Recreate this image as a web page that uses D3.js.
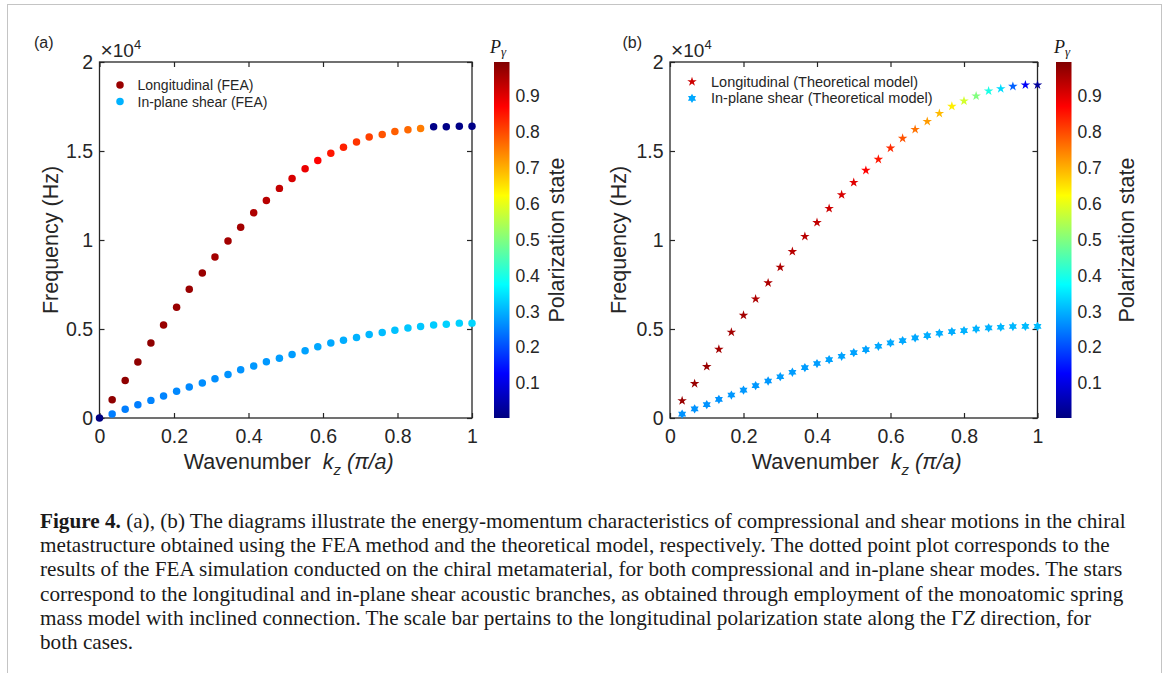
<!DOCTYPE html>
<html>
<head>
<meta charset="utf-8">
<title>Figure 4 - dispersion with polarization state</title>
<script src="https://cdn.jsdelivr.net/npm/d3@7"></script>
<style>
body { margin:0; background:#fff; }
svg { display:block; }
.sans { font-family: "Liberation Sans", Arial, sans-serif; fill:#262626; }
.serif { font-family: "Liberation Serif", "Times New Roman", serif; fill:#1a1a1a; }
.axis text { font-family: "Liberation Sans", Arial, sans-serif; fill:#262626; }
.axis line { stroke:#262626; stroke-width:1.2; }
</style>
</head>
<body>
<svg id="fig" width="1167" height="673"></svg>
<script>
// ---- data (frequency in units of 10^4 Hz, k in pi/a) ----
var kFEA = [0,0.034,0.069,0.103,0.138,0.172,0.207,0.241,0.276,0.310,0.345,0.379,0.414,0.448,0.483,
            0.517,0.552,0.586,0.621,0.655,0.690,0.724,0.759,0.793,0.828,0.862,0.897,0.931,0.966,1];
var longFEA = [0,0.103,0.211,0.314,0.421,0.523,0.622,0.723,0.815,0.905,0.994,1.071,1.153,1.222,1.290,
               1.346,1.400,1.447,1.488,1.521,1.551,1.578,1.593,1.609,1.619,1.626,1.636,1.636,1.639,1.639];
var longFEA_P = [0.0,0.98,0.98,0.98,0.98,0.97,0.97,0.97,0.97,0.96,0.96,0.96,0.95,0.94,0.93,
                 0.91,0.89,0.87,0.85,0.84,0.82,0.81,0.79,0.78,0.77,0.75,0.01,0.01,0.01,0.01];
var shearFEA = [0,0.022,0.049,0.075,0.099,0.123,0.150,0.174,0.196,0.221,0.245,0.271,0.292,0.316,0.336,
                0.357,0.378,0.400,0.421,0.437,0.452,0.469,0.480,0.493,0.506,0.514,0.523,0.527,0.533,0.533];
var shearFEA_P = [0.25,0.25,0.25,0.25,0.255,0.255,0.26,0.26,0.265,0.265,0.27,0.27,0.275,0.275,0.28,
                  0.28,0.285,0.29,0.29,0.295,0.30,0.305,0.31,0.315,0.32,0.32,0.325,0.33,0.33,0.335];

var kTheory = [0.033,0.067,0.100,0.133,0.167,0.200,0.233,0.267,0.300,0.333,0.367,0.400,0.433,0.467,0.500,
               0.533,0.567,0.600,0.633,0.667,0.700,0.733,0.767,0.800,0.833,0.867,0.900,0.933,0.967,1];
var longTheory = [0.097,0.193,0.289,0.386,0.482,0.577,0.669,0.759,0.847,0.935,1.020,1.098,1.177,1.254,1.323,
                  1.391,1.453,1.516,1.571,1.621,1.666,1.711,1.751,1.781,1.809,1.837,1.850,1.863,1.871,1.871];
var longTheory_P = [0.97,0.97,0.97,0.96,0.96,0.96,0.95,0.95,0.95,0.94,0.94,0.93,0.92,0.91,0.90,
                    0.87,0.85,0.83,0.79,0.76,0.72,0.69,0.64,0.58,0.50,0.40,0.34,0.22,0.12,0.03];
var shearTheory = [0.022,0.051,0.075,0.105,0.129,0.157,0.182,0.208,0.232,0.257,0.283,0.306,0.328,0.347,0.367,
                   0.384,0.403,0.422,0.435,0.450,0.463,0.476,0.485,0.491,0.500,0.506,0.510,0.514,0.515,0.515];
var shearTheory_P = [0.27,0.27,0.27,0.27,0.275,0.275,0.275,0.275,0.28,0.28,0.28,0.28,0.285,0.285,0.285,
                     0.285,0.29,0.29,0.29,0.29,0.295,0.295,0.295,0.30,0.30,0.30,0.305,0.305,0.31,0.31];

var xTicks = [0, 0.2, 0.4, 0.6, 0.8, 1];
var yTicks = [0, 0.5, 1, 1.5, 2];
var cbTicks = [0.1, 0.2, 0.3, 0.4, 0.5, 0.6, 0.7, 0.8, 0.9];
var cbRange = [0.003, 0.995];

var legendA = ["Longitudinal (FEA)", "In-plane shear (FEA)"];
var legendB = ["Longitudinal (Theoretical model)", "In-plane shear (Theoretical model)"];
var legendA_P = [0.97, 0.30];
var legendB_P = [0.92, 0.29];

var captionLines = [
  "metastructure obtained using the FEA method and the theoretical model, respectively. The dotted point plot corresponds to the",
  "results of the FEA simulation conducted on the chiral metamaterial, for both compressional and in-plane shear modes. The stars",
  "correspond to the longitudinal and in-plane shear acoustic branches, as obtained through employment of the monoatomic spring",
  "mass model with inclined connection. The scale bar pertains to the longitudinal polarization state along the \u0393",
  "both cases."
];

// ---- helpers ----
function clamp01(v){ return Math.max(0, Math.min(1, v)); }
// MATLAB-like jet colormap
function jet(t){
  t = clamp01(t);
  var r = clamp01(1.5 - Math.abs(4*t - 3));
  var g = clamp01(1.5 - Math.abs(4*t - 2));
  var b = clamp01(1.5 - Math.abs(4*t - 1));
  return d3.rgb(r*255, g*255, b*255).formatHex();
}
var pNorm = d3.scaleLinear().domain(cbRange).range([0, 1]).clamp(true);
function pColor(p){ return jet(pNorm(p)); }

// six-pointed star (MATLAB hexagram)
var hexagram = {
  draw: function(ctx, size){
    var R = Math.sqrt(size) * 0.95, r = R / Math.sqrt(3);
    for (var i = 0; i < 12; i++){
      var a = -Math.PI/2 + i*Math.PI/6, rr = (i % 2 === 0) ? R : r;
      var px = rr*Math.cos(a), py = rr*Math.sin(a);
      if (i === 0) ctx.moveTo(px, py); else ctx.lineTo(px, py);
    }
    ctx.closePath();
  }
};

var svg = d3.select("#fig");
svg.append("rect").attr("width", 1167).attr("height", 673).attr("fill", "#fff");
svg.append("rect").attr("x", 7.5).attr("y", 4.5).attr("width", 1154).attr("height", 700)
   .attr("fill", "none").attr("stroke", "#c4c4c4").attr("stroke-width", 1);

// gradient for colorbar (bottom = low, top = high)
var grad = svg.append("defs").append("linearGradient").attr("id", "jetgrad")
   .attr("x1", 0).attr("y1", 1).attr("x2", 0).attr("y2", 0);
d3.range(0, 1.0001, 0.0625).forEach(function(t){
  grad.append("stop").attr("offset", t).attr("stop-color", jet(t));
});

var yTop = 62, yBot = 418;

function drawPanel(opt){
  var g = svg.append("g");
  var x = d3.scaleLinear().domain([0, 1]).range([opt.x0, opt.x1]);
  var y = d3.scaleLinear().domain([0, 2]).range([yBot, yTop]);

  // box
  g.append("rect").attr("x", opt.x0).attr("y", yTop)
    .attr("width", opt.x1 - opt.x0).attr("height", yBot - yTop)
    .attr("fill", "none").attr("stroke", "#262626").attr("stroke-width", 1.3);

  var ax = g.append("g").attr("class", "axis").attr("transform", "translate(0," + yBot + ")")
    .call(d3.axisBottom(x).tickValues(xTicks).tickSize(-5).tickPadding(11.5).tickFormat(function(d){ return d; }));
  ax.selectAll("text").attr("font-size", 19.5);
  g.append("g").attr("class", "axis").attr("transform", "translate(0," + yTop + ")")
    .call(d3.axisTop(x).tickValues(xTicks).tickSize(-5).tickFormat(""));
  var ay = g.append("g").attr("class", "axis").attr("transform", "translate(" + opt.x0 + ",0)")
    .call(d3.axisLeft(y).tickValues(yTicks).tickSize(-5).tickPadding(6.5).tickFormat(function(d){ return d; }));
  ay.selectAll("text").attr("font-size", 19.5);
  g.append("g").attr("class", "axis").attr("transform", "translate(" + opt.x1 + ",0)")
    .call(d3.axisRight(y).tickValues(yTicks).tickSize(-5).tickFormat(""));
  g.selectAll(".axis .domain").remove();

  // series
  opt.series.forEach(function(s){
    var sym = d3.symbol().type(s.type).size(s.size);
    g.append("g").selectAll("path").data(s.y).join("path")
      .attr("transform", function(d, i){ return "translate(" + x(s.k[i]) + "," + y(d) + ")"; })
      .attr("d", sym)
      .attr("fill", function(d, i){ return pColor(s.p[i]); });
  });

  // legend
  opt.legend.forEach(function(lab, i){
    var ly = opt.legY + i*16.6;
    var sym = d3.symbol().type(opt.legTypes[i]).size(opt.legSizes[i]);
    g.append("path").attr("d", sym).attr("transform", "translate(" + opt.legMx + "," + ly + ")")
      .attr("fill", pColor(opt.legP[i]));
    g.append("text").attr("class", "sans").attr("x", opt.legTx).attr("y", ly + 5)
      .attr("font-size", opt.legFs).text(lab);
  });

  // panel letter and exponent
  g.append("text").attr("class", "sans").attr("x", opt.letterX).attr("y", 48)
    .attr("font-size", 16).attr("fill", "#111").text(opt.letter);
  var ex = g.append("text").attr("class", "sans").attr("x", opt.x0 + 1).attr("y", 57).attr("font-size", 19);
  ex.append("tspan").attr("font-size", 21).text("\u00d7");
  ex.append("tspan").text("10");
  ex.append("tspan").attr("font-size", 13).attr("dy", -8).text("4");

  // axis titles
  var xt = g.append("text").attr("class", "sans").attr("x", (opt.x0 + opt.x1)/2 + 3).attr("y", 469)
    .attr("text-anchor", "middle").attr("font-size", 21.5).style("white-space", "pre");
  xt.append("tspan").text("Wavenumber  ");
  xt.append("tspan").attr("font-style", "italic").text("k");
  xt.append("tspan").attr("font-style", "italic").attr("font-size", 15).attr("dy", 6).text("z");
  xt.append("tspan").attr("font-style", "italic").attr("dy", -6).text(" (\u03c0/a)");

  g.append("text").attr("class", "sans").attr("font-size", 21.5).attr("text-anchor", "middle")
    .attr("transform", "translate(" + (opt.x0 - opt.yLabOff) + "," + (yTop + yBot)/2 + ") rotate(-90)")
    .text("Frequency (Hz)");

  // colorbar
  var cb = d3.scaleLinear().domain(cbRange).range([yBot, yTop]);
  g.append("rect").attr("x", opt.cb0).attr("y", yTop).attr("width", opt.cb1 - opt.cb0)
    .attr("height", yBot - yTop).attr("fill", "url(#jetgrad)");
  var ac = g.append("g").attr("class", "axis").attr("transform", "translate(" + opt.cb1 + ",0)")
    .call(d3.axisRight(cb).tickValues(cbTicks).tickSize(0).tickPadding(6).tickFormat(d3.format(".1f")));
  ac.selectAll("text").attr("font-size", 17.5);
  ac.select(".domain").remove();

  var pl = g.append("text").attr("class", "serif").attr("x", opt.pX).attr("y", 53)
    .attr("font-size", 18).attr("font-style", "italic");
  pl.append("tspan").text("P");
  pl.append("tspan").attr("font-size", 13).attr("dy", 3).text("\u03b3");

  g.append("text").attr("class", "sans").attr("font-size", 21.5).attr("text-anchor", "middle")
    .attr("transform", "translate(" + opt.cbLabX + "," + (yTop + yBot)/2 + ") rotate(-90)")
    .text("Polarization state");
}

drawPanel({
  x0: 99.5, x1: 472, cb0: 494, cb1: 509.5, cbLabX: 564, pX: 490, letter: "(a)", letterX: 34, yLabOff: 41.5,
  series: [
    {k: kFEA.slice(1), y: shearFEA.slice(1), p: shearFEA_P.slice(1), type: d3.symbolCircle, size: 44},
    {k: kFEA, y: longFEA, p: longFEA_P, type: d3.symbolCircle, size: 44}
  ],
  legend: legendA, legP: legendA_P, legTypes: [d3.symbolCircle, d3.symbolCircle], legSizes: [44, 44],
  legMx: 120, legTx: 137.5, legY: 85, legFs: 14
});

drawPanel({
  x0: 670, x1: 1037.5, cb0: 1056, cb1: 1071.5, cbLabX: 1134, pX: 1054, letter: "(b)", letterX: 622.5, yLabOff: 44,
  series: [
    {k: kTheory, y: shearTheory, p: shearTheory_P, type: hexagram, size: 24},
    {k: kTheory, y: longTheory, p: longTheory_P, type: d3.symbolStar, size: 28}
  ],
  legend: legendB, legP: legendB_P, legTypes: [d3.symbolStar, hexagram], legSizes: [28, 24],
  legMx: 692, legTx: 711, legY: 81.7, legFs: 14.5
});

// ---- caption ----
var capFs = 21.2, capX = 40, capY0 = 528, capDy = 24.2;
var c1 = svg.append("text").attr("class", "serif").attr("x", capX).attr("y", capY0).attr("font-size", capFs);
c1.append("tspan").attr("font-weight", "bold").text("Figure 4.");
c1.append("tspan").text(" (a), (b) The diagrams illustrate the energy-momentum characteristics of compressional and shear motions in the chiral");
captionLines.forEach(function(line, i){
  var t = svg.append("text").attr("class", "serif").attr("x", capX).attr("y", capY0 + (i + 1)*capDy)
    .attr("font-size", capFs).text(line);
  if (i === 3){
    t.append("tspan").attr("font-style", "italic").text("Z");
    t.append("tspan").text(" direction, for");
  }
});
</script>
</body>
</html>
